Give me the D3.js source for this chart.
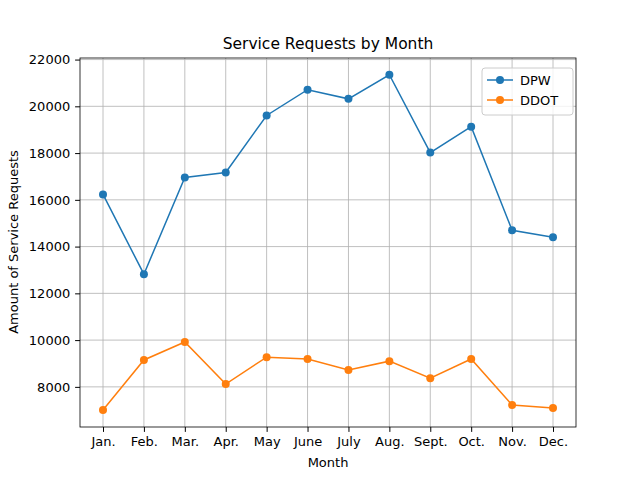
<!DOCTYPE html>
<html><head><meta charset="utf-8">
<script src="https://cdn.jsdelivr.net/npm/d3@7"></script>
<style>body{margin:0;background:#fff}</style></head>
<body><svg id="c" width="640" height="480"></svg>
<script>
const months=["Jan.","Feb.","Mar.","Apr.","May","June","July","Aug.","Sept.","Oct.","Nov.","Dec."];
const dpw=[16230,12820,16960,17170,19610,20710,20320,21350,18020,19130,14700,14400];
const ddot=[7010,9150,9920,8120,9270,9190,8720,9100,8370,9190,7220,7100];
const yTicks=[8000,10000,12000,14000,16000,18000,20000,22000];
const svg=d3.select("#c");
const L=80,R=576,T=58,B=427;
const x=d3.scalePoint().domain(months).range([103,553]);
const y=d3.scaleLinear().domain([6283,22067]).range([B,T]);
const font="DejaVu Sans";
const g=svg.append("g");
g.selectAll(".gx").data(months).join("line").attr("x1",d=>x(d)).attr("x2",d=>x(d)).attr("y1",T).attr("y2",B).attr("stroke","#b0b0b0").attr("stroke-width",0.8);
g.selectAll(".gy").data(yTicks).join("line").attr("x1",L).attr("x2",R).attr("y1",d=>y(d)).attr("y2",d=>y(d)).attr("stroke","#b0b0b0").attr("stroke-width",0.8);
const xa=svg.append("g").attr("transform",`translate(0,${B})`).call(d3.axisBottom(x).tickSizeOuter(0).tickSize(4.9).tickPadding(4.9));
const ya=svg.append("g").attr("transform",`translate(${L},0)`).call(d3.axisLeft(y).tickValues(yTicks).tickFormat(d3.format("d")).tickSize(4.9).tickPadding(4.9));
[xa,ya].forEach(a=>{a.select(".domain").remove();a.selectAll("text").attr("font-family",font).attr("font-size",13).attr("fill","#000");a.selectAll("line").attr("stroke","#000");});
svg.append("rect").attr("x",L).attr("y",T).attr("width",R-L).attr("height",B-T).attr("fill","none").attr("stroke","#000").attr("stroke-width",0.8);
const line=d3.line().x((d,i)=>x(months[i])).y(d=>y(d));
[[dpw,"#1f77b4"],[ddot,"#ff7f0e"]].forEach(([s,c])=>{
 svg.append("path").attr("d",line(s)).attr("fill","none").attr("stroke",c).attr("stroke-width",1.5);
 svg.selectAll(null).data(s).join("circle").attr("cx",(d,i)=>x(months[i])).attr("cy",d=>y(d)).attr("r",4).attr("fill",c);
});
svg.append("text").attr("x",328).attr("y",49).attr("text-anchor","middle").attr("font-family",font).attr("font-size",15.5).text("Service Requests by Month");
svg.append("text").attr("x",328).attr("y",467).attr("text-anchor","middle").attr("font-family",font).attr("font-size",13).text("Month");
svg.append("text").attr("transform","translate(18,242) rotate(-90)").attr("text-anchor","middle").attr("font-family",font).attr("font-size",13).text("Amount of Service Requests");
const lg=svg.append("g");
lg.append("rect").attr("x",482).attr("y",68).attr("width",91).attr("height",47).attr("rx",3).attr("fill","#fff").attr("fill-opacity",0.8).attr("stroke","#ccc");
[["DPW","#1f77b4"],["DDOT","#ff7f0e"]].forEach(([n,c],i)=>{
 const yy=80+i*20;
 lg.append("line").attr("x1",487).attr("x2",513).attr("y1",yy).attr("y2",yy).attr("stroke",c).attr("stroke-width",1.5);
 lg.append("circle").attr("cx",500).attr("cy",yy).attr("r",4).attr("fill",c);
 lg.append("text").attr("x",520).attr("y",yy+4.5).attr("font-family",font).attr("font-size",13).text(n);
});
</script></body></html>
